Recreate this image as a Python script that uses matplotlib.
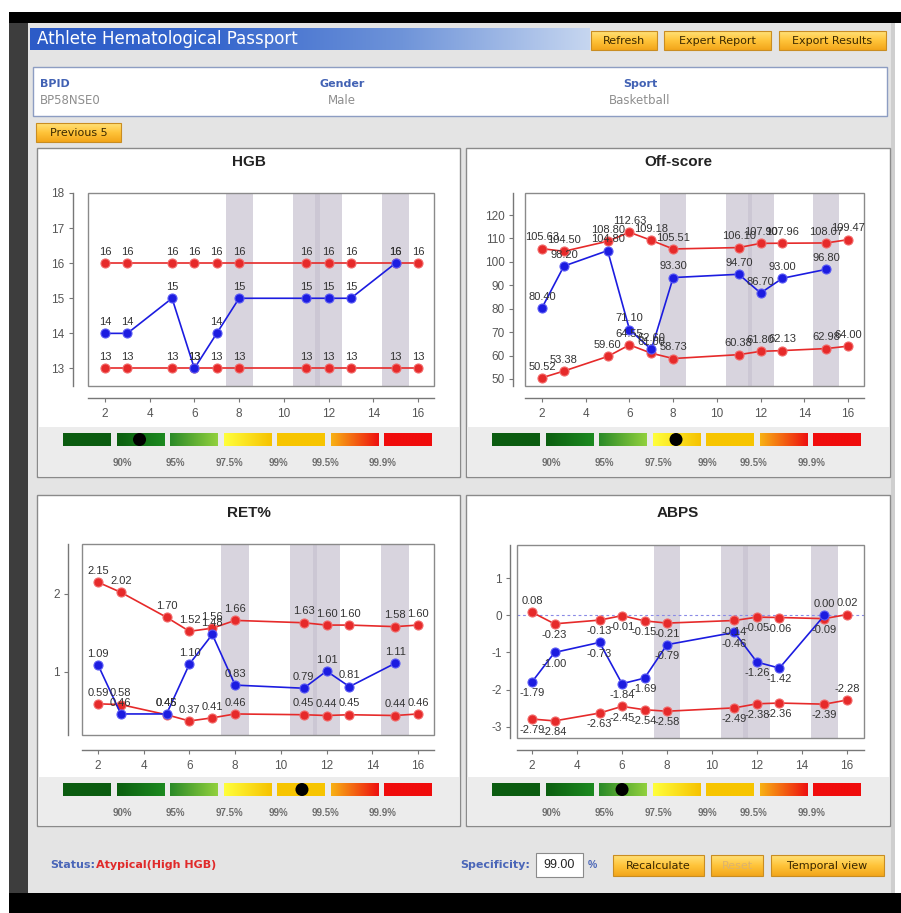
import matplotlib
matplotlib.use('Agg')
import matplotlib.pyplot as plt
import numpy as np
from matplotlib.colors import LinearSegmentedColormap
from matplotlib.patches import Rectangle, Circle

plt.rcParams['font.family'] = ['Liberation Sans', 'DejaVu Sans']
plt.rcParams['axes.unicode_minus'] = False

# ---------------- data ----------------
x_red = [2, 3, 5, 6, 7, 8, 11, 12, 13, 15, 16]
x_blue = [2, 3, 5, 6, 7, 8, 11, 12, 13, 15]
band_centers = [8, 11, 12, 15]
x_ticks = [2, 4, 6, 8, 10, 12, 14, 16]

hgb_upper = [16, 16, 16, 16, 16, 16, 16, 16, 16, 16, 16]
hgb_value = [14, 14, 15, 13, 14, 15, 15, 15, 15, 16]
hgb_lower = [13, 13, 13, 13, 13, 13, 13, 13, 13, 13, 13]
hgb_yticks = [13, 14, 15, 16, 17, 18]

off_upper = [105.63, 104.50, 108.80, 112.63, 109.18, 105.51, 106.10, 107.90, 107.96, 108.07, 109.47]
off_value = [80.40, 98.20, 104.80, 71.10, 62.60, 93.30, 94.70, 86.70, 93.00, 96.80]
off_lower = [50.52, 53.38, 59.60, 64.55, 61.00, 58.73, 60.38, 61.80, 62.13, 62.98, 64.00]
off_yticks = [50, 60, 70, 80, 90, 100, 110, 120]

ret_upper = [2.15, 2.02, 1.70, 1.52, 1.56, 1.66, 1.63, 1.60, 1.60, 1.58, 1.60]
ret_value = [1.09, 0.46, 0.46, 1.10, 1.48, 0.83, 0.79, 1.01, 0.81, 1.11]
ret_lower = [0.59, 0.58, 0.45, 0.37, 0.41, 0.46, 0.45, 0.44, 0.45, 0.44, 0.46]
ret_yticks = [1, 2]

abps_upper = [0.08, -0.23, -0.13, -0.01, -0.15, -0.21, -0.14, -0.05, -0.06, -0.09, 0.02]
abps_value = [-1.79, -1.00, -0.73, -1.84, -1.69, -0.79, -0.46, -1.26, -1.42, 0.00]
abps_lower = [-2.79, -2.84, -2.63, -2.45, -2.54, -2.58, -2.49, -2.38, -2.36, -2.39, -2.28]
abps_yticks = [-3, -2, -1, 0, 1]

gauge_labels = ['90%', '95%', '97.5%', '99%', '99.5%', '99.9%']
# position of the athlete marker on the gauge, in segment units
gauge_pos = {'HGB': 1.48, 'Off-score': 3.49, 'RET%': 4.52, 'ABPS': 2.48}

# ---------------- figure ----------------
W, H = 901, 913
fig = plt.figure(figsize=(W / 100, H / 100), dpi=100)
bg = fig.add_axes([0, 0, 1, 1], zorder=0)
bg.set_xlim(0, W)
bg.set_ylim(H, 0)
bg.axis('off')


def rect(x0, y0, x1, y1, fc, ec='none', lw=1.0, z=1):
    bg.add_patch(Rectangle((x0, y0), x1 - x0, y1 - y0, facecolor=fc,
                           edgecolor=ec, linewidth=lw, zorder=z))


def grad(x0, y0, x1, y1, colors, horizontal=True, z=2):
    cmap = LinearSegmentedColormap.from_list('g', colors)
    arr = cmap(np.linspace(0, 1, 256))
    img = arr[None, :, :] if horizontal else arr[:, None, :]
    bg.imshow(img, extent=(x0, x1, y1, y0), aspect='auto', zorder=z,
              interpolation='bilinear')


def button(x0, y0, x1, y1, label, tc='#3a2800', fs=8.5):
    grad(x0, y0, x1, y1, ['#ffe27a', '#ffc43a', '#f2a51a'], horizontal=False, z=2)
    rect(x0, y0, x1, y1, 'none', ec='#c98d22', lw=0.8, z=3)
    bg.text((x0 + x1) / 2, (y0 + y1) / 2 + 0.5, label, ha='center', va='center',
            fontsize=fs, color=tc, zorder=4, family=['DejaVu Sans'])


# page frame
rect(0, 0, W, H, 'white', z=0)
rect(9, 12, W, 23, 'black', z=1)
rect(9, 23, 28, 893, '#3d3d3d', z=1)
rect(28, 23, 891, 893, '#e4e4e4', z=1)
rect(891, 23, 895, 893, '#cfcfcf', z=1)
rect(9, 893, W, H, 'black', z=1)

# header
grad(30, 28, 590, 50, ['#2c5bc7', '#3767cd', '#6f94d9', '#c6d6f0'], z=2)
bg.text(37, 39.5, 'Athlete Hematological Passport', ha='left', va='center',
        fontsize=12, color='white', zorder=4, family=['DejaVu Sans'])
button(591, 31, 657, 50, 'Refresh', fs=8)
button(664, 31, 771, 50, 'Expert Report', fs=8)
button(779, 31, 886, 50, 'Export Results', fs=8)

# info box
rect(33, 67, 887, 116, 'white', ec='#8d9dc2', lw=1.0, z=2)
info = [('BPID', 'BP58NSE0', 40, 'left'), ('Gender', 'Male', 342, 'center'),
        ('Sport', 'Basketball', 640, 'center')]
for lab, val, xx, ha in info:
    bg.text(xx, 84, lab, ha=ha, va='center', fontsize=8, fontweight='bold',
            color='#4262b4', zorder=4, family=['DejaVu Sans'])
    bg.text(xx, 100, val, ha=ha, va='center', fontsize=8.5, color='#8e8e8e', zorder=4,
            family=['DejaVu Sans'])

button(36, 123, 121, 142, 'Previous 5', fs=8)

# panels
panels = {
    'HGB': (37, 148, 460, 477),
    'Off-score': (466, 148, 890, 477),
    'RET%': (37, 495, 460, 826),
    'ABPS': (466, 495, 890, 826),
}
gauge_top = {'HGB': 427, 'Off-score': 427, 'RET%': 777, 'ABPS': 777}
title_y = {'HGB': 162, 'Off-score': 162, 'RET%': 513, 'ABPS': 513}

seg_colors = [
    ['#0b5c10', '#0b5c10'],
    ['#0b5e10', '#1c8a20'],
    ['#2a8a28', '#92d13e'],
    ['#ffff3c', '#f6c200'],
    ['#f7c500', '#f7c500'],
    ['#f8b214', '#ee1010'],
    ['#f00c0c', '#f00c0c'],
]
label_rel = [85, 138, 192, 241, 288, 346]

for name, (px0, py0, px1, py1) in panels.items():
    rect(px0, py0, px1, py1, 'white', ec='#8a8a8a', lw=1.0, z=2)
    gt = gauge_top[name]
    rect(px0 + 1, gt, px1 - 1, py1 - 1, '#ececec', z=3)
    bg.text((px0 + px1) / 2, title_y[name], name, ha='center', va='center',
            fontsize=11, fontweight='bold', color='#222222', zorder=4)
    for i, cols in enumerate(seg_colors):
        sx = px0 + 26 + i * 53.5
        grad(sx, gt + 6, sx + 48, gt + 19, cols, z=4)
    for lab, lx in zip(gauge_labels, label_rel):
        bg.text(px0 + lx, gt + 36, lab, ha='center', va='center', fontsize=7,
                color='#6e6e6e', zorder=5, fontweight='bold')
    p = gauge_pos[name]
    k = int(p)
    dx = px0 + 26 + k * 53.5 + (p - k) * 48
    bg.add_patch(Circle((dx, gt + 12.5), 6.5, facecolor='black', edgecolor='none', zorder=6))

# bottom status row
bg.text(50, 865, 'Status:', ha='left', va='center', fontsize=8, fontweight='bold',
        color='#4a66b8', zorder=4, family=['DejaVu Sans'])
bg.text(96, 865, 'Atypical(High HGB)', ha='left', va='center', fontsize=8,
        fontweight='bold', color='#e02a2a', zorder=4, family=['DejaVu Sans'])
bg.text(530, 865, 'Specificity:', ha='right', va='center', fontsize=8,
        fontweight='bold', color='#4a66b8', zorder=4, family=['DejaVu Sans'])
rect(536, 853, 583, 877, 'white', ec='#8a8a8a', lw=0.8, z=3)
bg.text(559.5, 865, '99.00', ha='center', va='center', fontsize=9, color='#222', zorder=4)
bg.text(592, 865, '%', ha='center', va='center', fontsize=7.5, fontweight='bold',
        color='#4a66b8', zorder=4)
button(613, 855, 704, 876, 'Recalculate', fs=8)
button(711, 855, 763, 876, 'Reset', tc='#dcb36e', fs=8)
button(771, 855, 884, 876, 'Temporal view', fs=8)

bg.set_xlim(0, W)
bg.set_ylim(H, 0)


# ---------------- charts ----------------
def chart(box, xlim, ylim, yticks, ylab_fmt, yoff, xoff, series, fmt, zero_line=False):
    x0, y0, x1, y1 = box
    ax = fig.add_axes([x0 / W, 1 - y1 / H, (x1 - x0) / W, (y1 - y0) / H], zorder=2)
    ax.set_facecolor('white')
    ax.set_xlim(*xlim)
    ax.set_ylim(*ylim)
    for c in band_centers:
        ax.axvspan(c - 0.6, c + 0.6, color='#c8c2d0', alpha=0.7, lw=0, zorder=0)
    ax.add_patch(Rectangle((0, 0), 1, 1, transform=ax.transAxes, fill=False,
                           ec='#8a8a8a', lw=1.0, clip_on=False, zorder=6))
    ax.spines['top'].set_visible(False)
    ax.spines['right'].set_visible(False)
    ax.spines['left'].set_position(('outward', yoff * 0.72))
    ax.spines['bottom'].set_position(('outward', xoff * 0.72))
    for s in ('left', 'bottom'):
        ax.spines[s].set_color('#777777')
        ax.spines[s].set_linewidth(1.0)
    ax.set_xticks(x_ticks)
    ax.set_xticklabels([str(t) for t in x_ticks])
    ax.set_yticks(yticks)
    ax.set_yticklabels([ylab_fmt.format(t) for t in yticks])
    ax.tick_params(axis='both', colors='#777777', labelcolor='#555555',
                   labelsize=8.5, length=3, width=0.8)
    ax.tick_params(axis='x', pad=4)
    ax.tick_params(axis='y', pad=3)
    if zero_line:
        ax.axhline(0, color='#8a8ae6', lw=0.8, ls=(0, (2.5, 2.5)), zorder=1)
    for xs, ys, color, ec, sides, z in series:
        ax.plot(xs, ys, '-', color=color, lw=1.2, zorder=z)
        ax.plot(xs, ys, 'o', color=color, ms=6.5, mec=ec, mew=0.8, zorder=z + 0.5)
        for xv, yv, sd in zip(xs, ys, sides):
            ax.annotate(fmt.format(yv), (xv, yv), xytext=(0, 4.5 * sd),
                        textcoords='offset points', ha='center',
                        va='bottom' if sd > 0 else 'top', fontsize=8,
                        color='#333333', zorder=7, annotation_clip=False)
    return ax


RED, RED_EC = '#e62a2a', '#f26a6a'
BLUE, BLUE_EC = '#1c1ce0', '#5a5af5'
up = [1] * 11
upb = [1] * 10

chart((88, 193, 434, 386), (1.24, 16.72), (12.5, 18), hgb_yticks, '{:d}', 15, 12,
      [(x_red, hgb_upper, RED, RED_EC, up, 3),
       (x_red, hgb_lower, RED, RED_EC, up, 3),
       (x_blue, hgb_value, BLUE, BLUE_EC, upb, 4)], '{:.0f}')

chart((525, 193, 864, 386), (1.22, 16.73), (47, 129.4), off_yticks, '{:d}', 12, 12,
      [(x_red, off_upper, RED, RED_EC, up, 3),
       (x_red, off_lower, RED, RED_EC, up, 3),
       (x_blue, off_value, BLUE, BLUE_EC, upb, 4)], '{:.2f}')

chart((82, 544, 434, 735), (1.30, 16.70), (0.19, 2.64), ret_yticks, '{:d}', 14, 15,
      [(x_red, ret_upper, RED, RED_EC, up, 3),
       (x_red, ret_lower, RED, RED_EC, up, 3),
       (x_blue, ret_value, BLUE, BLUE_EC, upb, 4)], '{:.2f}')

abps_up_sides = [1, -1, -1, -1, -1, -1, -1, -1, -1, -1, 1]
abps_val_sides = [-1, -1, -1, -1, -1, -1, -1, -1, -1, 1]
abps_low_sides = [-1, -1, -1, -1, -1, -1, -1, -1, -1, -1, 1]
chart((517, 545, 864, 738), (1.33, 16.76), (-3.3, 1.89), abps_yticks, '{:d}', 7, 12,
      [(x_red, abps_upper, RED, RED_EC, abps_up_sides, 3),
       (x_red, abps_lower, RED, RED_EC, abps_low_sides, 3),
       (x_blue, abps_value, BLUE, BLUE_EC, abps_val_sides, 4)], '{:.2f}', zero_line=True)

fig.savefig('out.png', dpi=100)
